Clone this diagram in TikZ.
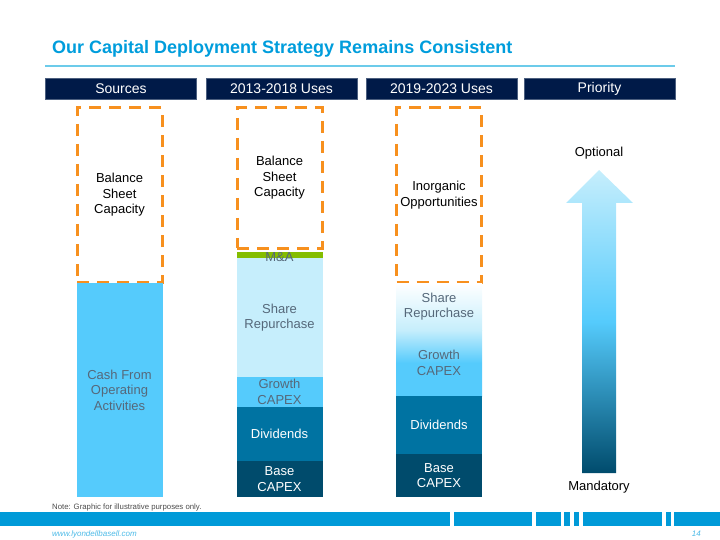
\documentclass[tikz,border=0pt]{standalone}
\usepackage{fontspec}
\setmainfont{Liberation Sans}
\usetikzlibrary{calc}

\definecolor{navy}{HTML}{001A48}
\definecolor{titleblue}{HTML}{009DDC}
\definecolor{rulecol}{HTML}{6CCBEA}
\definecolor{dashorange}{HTML}{F7901E}
\definecolor{mnagreen}{HTML}{84BD00}
\definecolor{paleblue}{HTML}{C6EEFC}
\definecolor{skyblue}{HTML}{55CBFC}
\definecolor{divblue}{HTML}{0073A2}
\definecolor{baseblue}{HTML}{004B6C}
\definecolor{footblue}{HTML}{009AD8}
\definecolor{labelgray}{HTML}{55687A}

\newcommand{\bodyfont}{\fontsize{13}{15.5}\selectfont}

\begin{document}
\begin{tikzpicture}[x=1pt, y=-1pt,
    headbar/.style={fill=navy, draw=navy!70!white, line width=0.5pt, text=white,
        font=\fontsize{14}{16}\selectfont, minimum width=151pt, minimum height=21pt, inner sep=0pt},
    seg/.style={minimum width=86pt, inner sep=0pt, align=center, font=\bodyfont, text=labelgray},
    capbox/.style={draw=dashorange, line width=3pt, dash pattern=on 12pt off 8pt,
        minimum width=85pt, inner sep=0pt, align=center, font=\bodyfont, text=black},
    darkseg/.style={seg, text=white}]
    \useasboundingbox (0,0) rectangle (720,540);

    % --- Title and rule ---
    \node[anchor=base west, inner sep=0pt, text=titleblue, font=\fontsize{18}{20}\selectfont\bfseries]
        (title) at (52,54) {Our Capital Deployment Strategy Remains Consistent};
    \draw[rulecol, line width=2pt] (45,66) -- (675,66);

    % --- Column headers ---
    \node[headbar] (hsrc)  at (121,88.5)   {Sources};
    \node[headbar] (hold)  at (281.5,88.5) {2013-2018 Uses};
    \node[headbar] (hnew)  at (441.5,88.5) {2019-2023 Uses};
    \node[headbar] (hprio) at (599.5,88.5) {Priority};

    % --- 1. Sources ---
    \node[capbox, minimum height=174pt] (bsc1) at (119.5,195) {Balance\\Sheet\\Capacity};
    \node[seg, fill=skyblue, minimum height=214pt] (cash) at (119.5,390) {Cash From\\Operating\\Activities};

    % --- 2. 2013-2018 uses ---
    \node[capbox, minimum height=140pt] (bsc2) at (279.5,178) {Balance\\Sheet\\Capacity};
    \node[seg, fill=mnagreen, minimum height=6pt] (mnabar) at (279.5,255) {};
    \node[seg, fill=paleblue, minimum height=119pt] (share2) at (279.5,317.5) {Share\\Repurchase};
    \node[seg, fill=skyblue, minimum height=30pt] (growth2) at (279.5,392) {Growth\\CAPEX};
    \node[darkseg, fill=divblue, minimum height=54pt] (div2) at (279.5,434) {Dividends};
    \node[darkseg, fill=baseblue, minimum height=36pt] (base2) at (279.5,479) {Base\\CAPEX};
    \node[font=\bodyfont, text=labelgray, inner sep=0pt] (mna) at (279.5,257.5) {M\&A};

    % --- 3. 2019-2023 uses ---
    \node[capbox, minimum height=174pt] (inorg) at (439,195) {Inorganic\\Opportunities};
    \node[seg, top color=white, bottom color=paleblue, minimum height=47pt] (share3) at (439,306.5) {Share\\Repurchase};
    \node[seg, top color=paleblue, bottom color=skyblue, middle color=skyblue, minimum height=66pt] (growth3) at (439,363) {Growth\\CAPEX};
    \node[darkseg, fill=divblue, minimum height=58pt] (div3) at (439,425) {Dividends};
    \node[darkseg, fill=baseblue, minimum height=43pt] (base3) at (439,475.5) {Base\\CAPEX};

    % --- 4. Priority arrow ---
    \node[font=\bodyfont] (optional) at (599,153) {Optional};
    \node[font=\bodyfont] (mandatory) at (599,487) {Mandatory};
    \shade[top color=paleblue, bottom color=baseblue, middle color=skyblue]
        (582,473) -- (582,203) -- (566,203) -- (599,170) -- (633,203) -- (616,203) -- (616,473) -- cycle;

    % --- Note and footer ---
    \node[anchor=base west, inner sep=0pt, text=black!70, font=\fontsize{7.8}{9}\selectfont]
        (note) at (52,509) {Note: Graphic for illustrative purposes only.};
    \foreach \xa/\xb in {0/450, 454/532, 536/561, 564/570, 574/579, 583/662, 666/671, 674/720}
        \fill[footblue] (\xa,512) rectangle (\xb,526);
    \node[anchor=base west, inner sep=0pt, text=titleblue!70, font=\fontsize{8}{9}\selectfont\itshape]
        (web) at (52,536) {www.lyondellbasell.com};
    \node[anchor=base east, inner sep=0pt, text=titleblue!70, font=\fontsize{8}{9}\selectfont\itshape]
        (page) at (701,536) {14};
\end{tikzpicture}
\end{document}
